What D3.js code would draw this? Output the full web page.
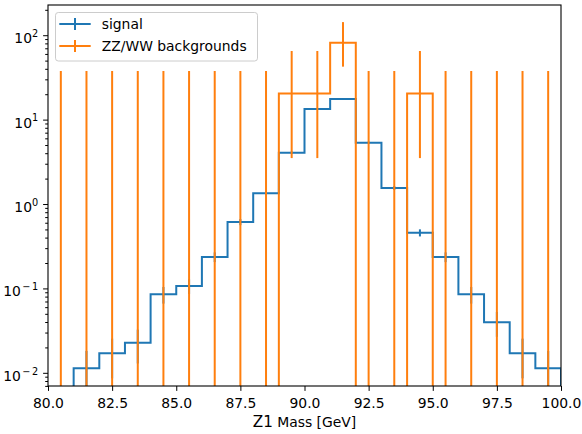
<!DOCTYPE html>
<html>
<head>
<meta charset="utf-8">
<script src="https://cdn.jsdelivr.net/npm/d3@7"></script>
<style>
  html, body { margin: 0; padding: 0; background: #fff; }
  svg { display: block; font-family: "DejaVu Sans", sans-serif; }
</style>
</head>
<body>
<svg id="chart" width="582" height="434"></svg>
<script>
// Histogram bin edges (GeV)
const binEdges = [80, 81, 82, 83, 84, 85, 86, 87, 88, 89, 90, 91, 92, 93, 94, 95, 96, 97, 98, 99, 100];

// Signal yield per bin and its uncertainty
const signalValues = [0, 0.0113, 0.0170, 0.0227, 0.0851, 0.107, 0.236, 0.612, 1.34, 4.05,
                      13.4, 17.5, 5.33, 1.55, 0.457, 0.236, 0.0851, 0.0397, 0.0170, 0.0113];
const signalErr = [0, 0.0069, 0.0084, 0.0098, 0.019, 0.021, 0.031, 0.051, 0.075, 0.13,
                   0.24, 0.27, 0.15, 0.081, 0.044, 0.031, 0.019, 0.013, 0.0084, 0.0069];

// ZZ/WW background yield per bin with asymmetric (Poisson) uncertainties
const backgroundValues = [0, 0, 0, 0, 0, 0, 0, 0, 0, 20.4,
                          20.4, 81.6, 0, 0, 20.4, 0, 0, 0, 0, 0];
const backgroundErrLow = [0, 0, 0, 0, 0, 0, 0, 0, 0, 16.9,
                          16.9, 39.2, 0, 0, 16.9, 0, 0, 0, 0, 0];
const backgroundErrHigh = [37.7, 37.7, 37.7, 37.7, 37.7, 37.7, 37.7, 37.7, 37.7, 44.6,
                           44.6, 61.4, 37.7, 37.7, 44.6, 37.7, 37.7, 37.7, 37.7, 37.7];

// Axis ticks
const xTickValues = [80, 82.5, 85, 87.5, 90, 92.5, 95, 97.5, 100];
const yTickExponents = [-2, -1, 0, 1, 2];

const seriesNames = ["signal", "ZZ/WW backgrounds"];
const seriesColors = ["#1f77b4", "#ff7f0e"];

const svg = d3.select("#chart");
const plot = { left: 48, right: 561, top: 5, bottom: 386 };
const fontSize = 13.9;

const x = d3.scaleLinear().domain([80, 100]).range([plot.left, plot.right]);
const y = d3.scaleLog().domain([0.00698, 228]).range([plot.bottom, plot.top]);
const floorValue = 1e-6; // empty bins sit below the visible range

svg.append("defs").append("clipPath").attr("id", "plotClip")
  .append("rect")
  .attr("x", plot.left).attr("y", plot.top)
  .attr("width", plot.right - plot.left).attr("height", plot.bottom - plot.top);

const layer = svg.append("g").attr("clip-path", "url(#plotClip)");

const line = d3.line().x(d => x(d[0])).y(d => y(Math.max(d[1], floorValue)));

function stairsPoints(values) {
  const pts = [[binEdges[0], 0]];
  values.forEach((v, i) => {
    pts.push([binEdges[i], v]);
    pts.push([binEdges[i + 1], v]);
  });
  pts.push([binEdges[binEdges.length - 1], 0]);
  return pts;
}

function drawSeries(values, errLow, errHigh, color) {
  const g = layer.append("g");
  g.append("path")
    .attr("d", line(stairsPoints(values)))
    .attr("fill", "none")
    .attr("stroke", color)
    .attr("stroke-width", 2)
    .attr("stroke-linejoin", "miter");

  const bars = values.map((v, i) => ({
    c: (binEdges[i] + binEdges[i + 1]) / 2,
    lo: v - errLow[i],
    hi: v + errHigh[i]
  })).filter(d => d.hi > 0 && d.hi > d.lo);

  bars.forEach(d => {
    g.append("line")
      .attr("x1", x(d.c)).attr("x2", x(d.c))
      .attr("y1", y(Math.max(d.lo, floorValue)))
      .attr("y2", y(d.hi))
      .attr("stroke", color)
      .attr("stroke-width", 2);
  });
}

drawSeries(signalValues, signalErr, signalErr, seriesColors[0]);
drawSeries(backgroundValues, backgroundErrLow, backgroundErrHigh, seriesColors[1]);

// Bottom axis
const xAxis = svg.append("g")
  .attr("transform", `translate(0,${plot.bottom})`)
  .call(d3.axisBottom(x).tickValues(xTickValues).tickFormat(d3.format(".1f"))
        .tickSize(4.9).tickPadding(4.9));
xAxis.selectAll("text").attr("y", 22.3).attr("dy", null);

// Left axis: minor ticks
const yMinor = [];
[-3, -2, -1, 0, 1, 2].forEach(e => {
  for (let m = 2; m <= 9; m++) yMinor.push(m * Math.pow(10, e));
});
svg.append("g")
  .attr("transform", `translate(${plot.left},0)`)
  .call(d3.axisLeft(y).tickValues(yMinor.filter(v => v >= y.domain()[0] && v <= y.domain()[1]))
        .tickFormat("").tickSize(2.8));

// Left axis: decades with superscript labels
const yAxis = svg.append("g")
  .attr("transform", `translate(${plot.left},0)`)
  .call(d3.axisLeft(y).tickValues(yTickExponents.map(e => Math.pow(10, e)))
        .tickFormat("").tickSize(4.9).tickPadding(4.9));
yAxis.selectAll(".tick").each(function(d, i) {
  const e = yTickExponents[i];
  const t = d3.select(this).select("text")
    .attr("x", -9.8).attr("dy", null).attr("y", 7.4)
    .attr("text-anchor", "end");
  t.text("");
  t.append("tspan").text("10");
  if (e < 0) {
    t.append("tspan").attr("font-size", fontSize * 0.7).attr("dy", -6.2).attr("dx", 1.5)
      .text("\u2212");
    t.append("tspan").attr("font-size", fontSize * 0.7).attr("dx", 1.5).text(String(-e));
  } else {
    t.append("tspan").attr("font-size", fontSize * 0.7).attr("dy", -6.2).text(String(e));
  }
});

svg.selectAll(".domain").remove();
svg.selectAll(".tick line").attr("stroke", "#000").attr("stroke-width", 1);
svg.selectAll(".tick text").attr("font-size", fontSize).attr("fill", "#000")
  .attr("font-family", "DejaVu Sans, sans-serif");

// Frame
svg.append("rect")
  .attr("x", plot.left).attr("y", plot.top)
  .attr("width", plot.right - plot.left).attr("height", plot.bottom - plot.top)
  .attr("fill", "none").attr("stroke", "#000").attr("stroke-width", 1.1);

// Axis label
const xl = svg.append("text")
  .attr("x", (plot.left + plot.right) / 2).attr("y", 427)
  .attr("text-anchor", "middle").attr("font-size", fontSize).attr("fill", "#000");
xl.append("tspan").attr("font-size", 15.2).text("Z1");
xl.append("tspan").text(" Mass [GeV]");

// Legend
const legend = svg.append("g");
legend.append("rect")
  .attr("x", 55.5).attr("y", 12.5).attr("width", 202).attr("height", 48.5)
  .attr("rx", 2.8).attr("ry", 2.8)
  .attr("fill", "#fff").attr("fill-opacity", 0.8)
  .attr("stroke", "#cccccc").attr("stroke-width", 1);

seriesNames.forEach((name, i) => {
  const cy = 24 + i * 22;
  const g = legend.append("g");
  g.append("line").attr("x1", 59.3).attr("x2", 90.7).attr("y1", cy).attr("y2", cy)
    .attr("stroke", seriesColors[i]).attr("stroke-width", 2);
  g.append("line").attr("x1", 75).attr("x2", 75).attr("y1", cy - 6).attr("y2", cy + 6)
    .attr("stroke", seriesColors[i]).attr("stroke-width", 2);
  g.append("text").attr("x", 101.7).attr("y", cy + 5)
    .attr("font-size", fontSize).attr("fill", "#000").text(name);
});
</script>
</body>
</html>
